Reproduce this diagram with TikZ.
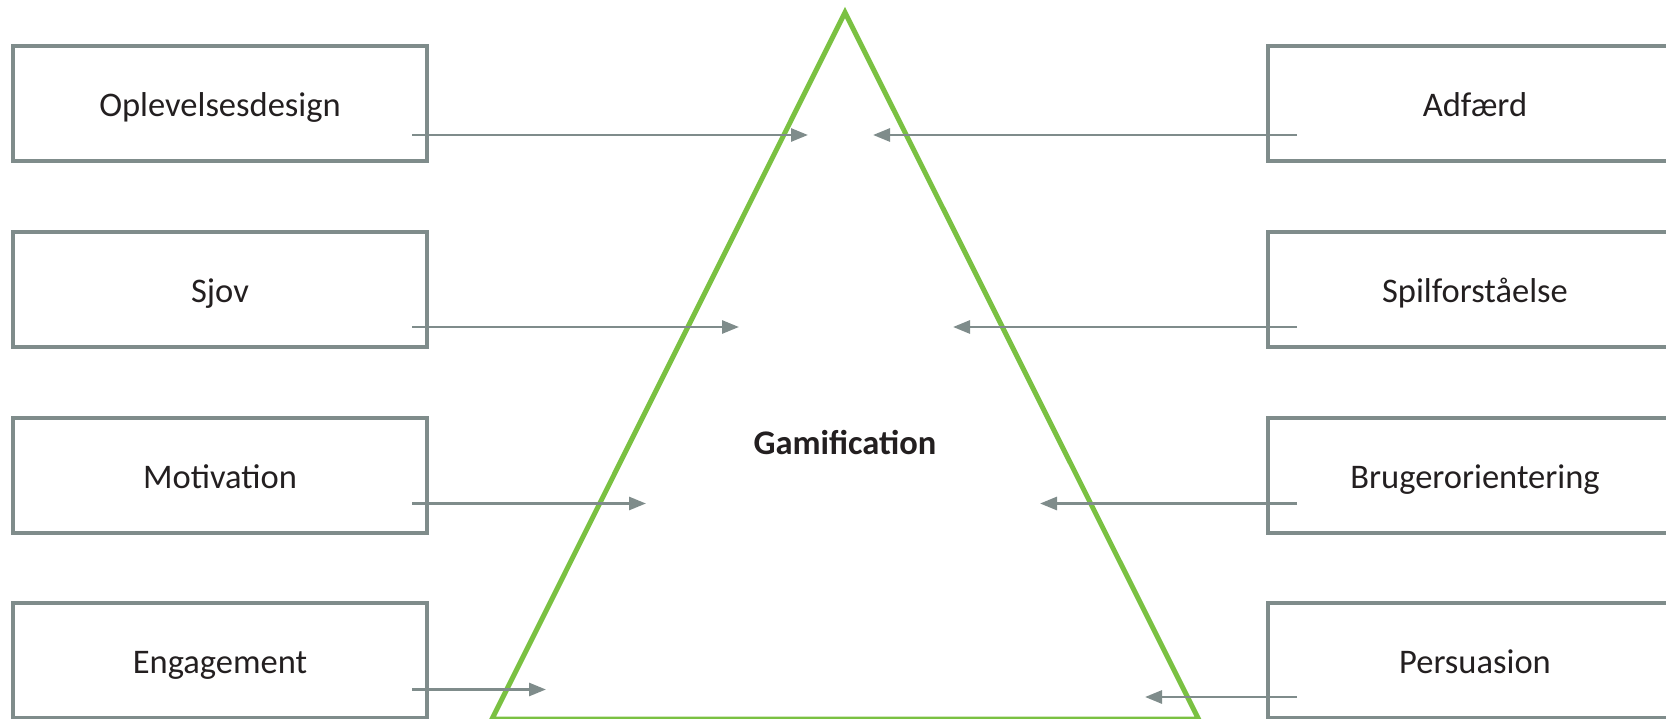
\documentclass[tikz,border=0pt]{standalone}
\usepackage{fontspec}
\setmainfont{Carlito}
\usetikzlibrary{arrows.meta}
\definecolor{boxgray}{RGB}{127,140,139}
\definecolor{trigreen}{RGB}{122,193,66}
\definecolor{txt}{RGB}{35,31,32}
\begin{document}
\begin{tikzpicture}[x=1pt,y=-1pt,
  box/.style={draw=boxgray,line width=4pt,minimum width=414pt,minimum height=115pt,inner sep=0pt,
    text height=26pt,text depth=0pt,
    text=txt,font=\fontsize{34.5}{40}\selectfont},
  conn/.style={draw=boxgray,line width=2.8pt,-{Triangle[length=17pt,width=13pt]}}]
\clip (0,0) rectangle (1666,719);
% triangle
\draw[trigreen,line width=5pt,line join=miter] (845,12.5) -- (1198.5,719) -- (492,719) -- cycle;
\node[text=txt,font=\bfseries\fontsize{34.5}{40}\selectfont] (gam) at (845,442) {Gamification};
% left boxes
\node[box] (l1) at (220,104) {Oplevelsesdesign};
\node[box] (l2) at (220,289.5) {Sjov};
\node[box] (l3) at (220,475) {Motivation};
\node[box] (l4) at (220,660) {Engagement};
% right boxes
\node[box] (r1) at (1475,104) {Adfærd};
\node[box] (r2) at (1475,289.5) {Spilforståelse};
\node[box] (r3) at (1475,475) {Brugerorientering};
\node[box] (r4) at (1475,660) {Persuasion};
% arrow coordinates
\coordinate (ls1) at (412,135);   \coordinate (le1) at (808,135);
\coordinate (ls2) at (412,327);   \coordinate (le2) at (739,327);
\coordinate (ls3) at (412,503.5); \coordinate (le3) at (646,503.5);
\coordinate (ls4) at (412,689.5); \coordinate (le4) at (546,689.5);
\coordinate (rs1) at (1297,135);  \coordinate (re1) at (873,135);
\coordinate (rs2) at (1297,327);  \coordinate (re2) at (953,327);
\coordinate (rs3) at (1297,503.5);\coordinate (re3) at (1040,503.5);
\coordinate (rs4) at (1297,697);  \coordinate (re4) at (1145,697);
\foreach \i in {1,2,3,4}{
  \draw[conn] (ls\i) -- (le\i);
  \draw[conn] (rs\i) -- (re\i);
}
\end{tikzpicture}
\end{document}
